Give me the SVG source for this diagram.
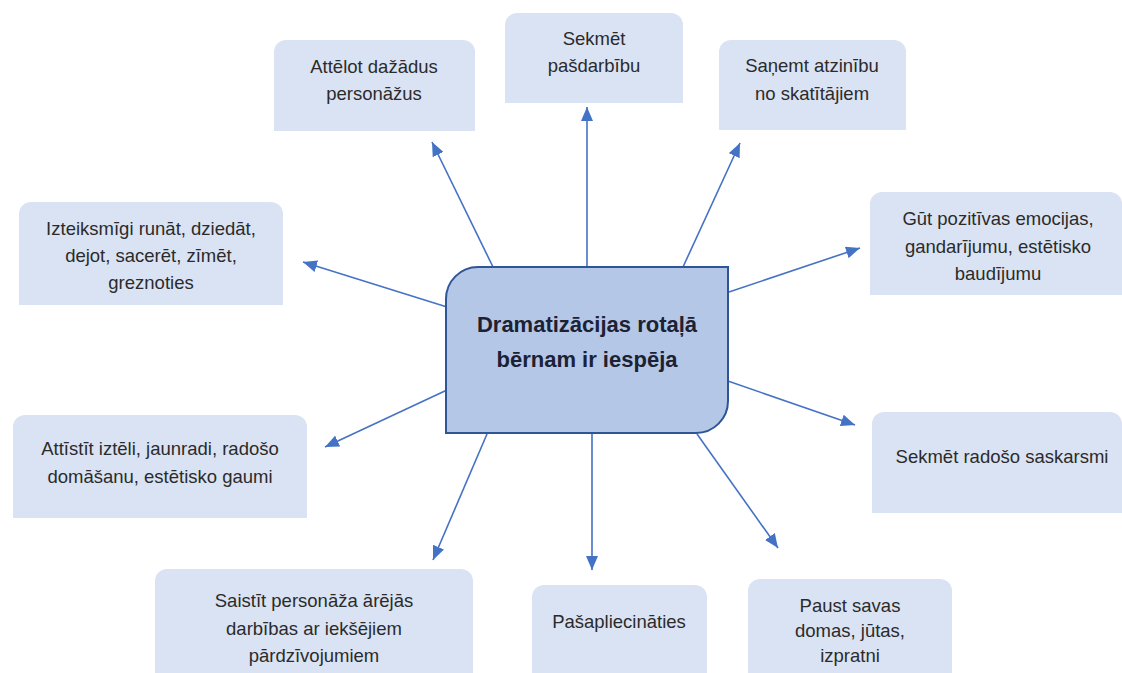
<svg xmlns="http://www.w3.org/2000/svg" width="1122" height="673" viewBox="0 0 1122 673">
<defs>
<style>
.box{fill:#dae3f3;}
.t{font-family:"Liberation Sans",Arial,sans-serif;font-size:18.5px;fill:#2b2b2b;text-anchor:middle;}
.ct{font-family:"Liberation Sans",Arial,sans-serif;font-size:22px;font-weight:bold;fill:#1c2233;text-anchor:middle;}
.c{stroke:#4472c4;stroke-width:1.6;fill:none;marker-end:url(#ah);}
</style>
<marker id="ah" markerUnits="userSpaceOnUse" markerWidth="14" markerHeight="12" viewBox="0 0 14 12" refX="14" refY="6" orient="auto">
<path d="M0,0 L14,6 L0,12 Z" fill="#4472c4"/>
</marker>
</defs>
<rect width="1122" height="673" fill="#ffffff"/>
<g id="connectors">
<line class="c" x1="493" y1="267" x2="432" y2="142"/>
<line class="c" x1="587" y1="267" x2="587" y2="107"/>
<line class="c" x1="683" y1="267" x2="740" y2="143"/>
<line class="c" x1="447" y1="307" x2="303" y2="262"/>
<line class="c" x1="729" y1="292" x2="860" y2="248"/>
<line class="c" x1="447" y1="390" x2="325" y2="447"/>
<line class="c" x1="725" y1="380" x2="855" y2="425"/>
<line class="c" x1="487" y1="434" x2="433" y2="560"/>
<line class="c" x1="592" y1="434" x2="592" y2="570"/>
<line class="c" x1="697" y1="434" x2="778" y2="548"/>
</g>
<g id="center">
<path d="M478 267 H728 V401 A32 32 0 0 1 696 433 H446 V299 A32 32 0 0 1 478 267 Z" fill="#b4c7e7" stroke="#2f5597" stroke-width="2"/>
<text class="ct" x="587" y="332">Dramatizācijas rotaļā</text>
<text class="ct" x="587" y="367">bērnam ir iespēja</text>
</g>
<g id="n-attelot">
<path class="box" d="M286 40 H463 A12 12 0 0 1 475 52 V131 H274 V52 A12 12 0 0 1 286 40 Z"/>
<text class="t" x="374" y="73">Attēlot dažādus</text>
<text class="t" x="374" y="100">personāžus</text>
</g>
<g id="n-sekmet">
<path class="box" d="M517 13 H671 A12 12 0 0 1 683 25 V103 H505 V25 A12 12 0 0 1 517 13 Z"/>
<text class="t" x="594" y="45">Sekmēt</text>
<text class="t" x="594" y="72">pašdarbību</text>
</g>
<g id="n-sanemt">
<path class="box" d="M731 40 H894 A12 12 0 0 1 906 52 V130 H719 V52 A12 12 0 0 1 731 40 Z"/>
<text class="t" x="812" y="72">Saņemt atzinību</text>
<text class="t" x="812" y="100">no skatītājiem</text>
</g>
<g id="n-izteiksmigi">
<path class="box" d="M31 202 H271 A12 12 0 0 1 283 214 V305 H19 V214 A12 12 0 0 1 31 202 Z"/>
<text class="t" x="151" y="235">Izteiksmīgi runāt, dziedāt,</text>
<text class="t" x="151" y="262">dejot, sacerēt, zīmēt,</text>
<text class="t" x="151" y="289">greznoties</text>
</g>
<g id="n-gut">
<path class="box" d="M882 192 H1110 A12 12 0 0 1 1122 204 V295 H870 V204 A12 12 0 0 1 882 192 Z"/>
<text class="t" x="998" y="225">Gūt pozitīvas emocijas,</text>
<text class="t" x="998" y="253">gandarījumu, estētisko</text>
<text class="t" x="998" y="280">baudījumu</text>
</g>
<g id="n-attistit">
<path class="box" d="M25 415 H295 A12 12 0 0 1 307 427 V518 H13 V427 A12 12 0 0 1 25 415 Z"/>
<text class="t" x="160" y="455">Attīstīt iztēli, jaunradi, radošo</text>
<text class="t" x="160" y="483">domāšanu, estētisko gaumi</text>
</g>
<g id="n-saskarsme">
<path class="box" d="M884 412 H1110 A12 12 0 0 1 1122 424 V513 H872 V424 A12 12 0 0 1 884 412 Z"/>
<text class="t" x="1002" y="463">Sekmēt radošo saskarsmi</text>
</g>
<g id="n-saistit">
<path class="box" d="M167 569 H461 A12 12 0 0 1 473 581 V673 H155 V581 A12 12 0 0 1 167 569 Z"/>
<text class="t" x="314" y="607">Saistīt personāža ārējās</text>
<text class="t" x="314" y="635">darbības ar iekšējiem</text>
<text class="t" x="314" y="662">pārdzīvojumiem</text>
</g>
<g id="n-pasapliecinaties">
<path class="box" d="M544 585 H695 A12 12 0 0 1 707 597 V673 H532 V597 A12 12 0 0 1 544 585 Z"/>
<text class="t" x="619" y="628">Pašapliecināties</text>
</g>
<g id="n-paust">
<path class="box" d="M760 579 H940 A12 12 0 0 1 952 591 V673 H748 V591 A12 12 0 0 1 760 579 Z"/>
<text class="t" x="850" y="612">Paust savas</text>
<text class="t" x="850" y="637">domas, jūtas,</text>
<text class="t" x="850" y="662">izpratni</text>
</g>
</svg>
